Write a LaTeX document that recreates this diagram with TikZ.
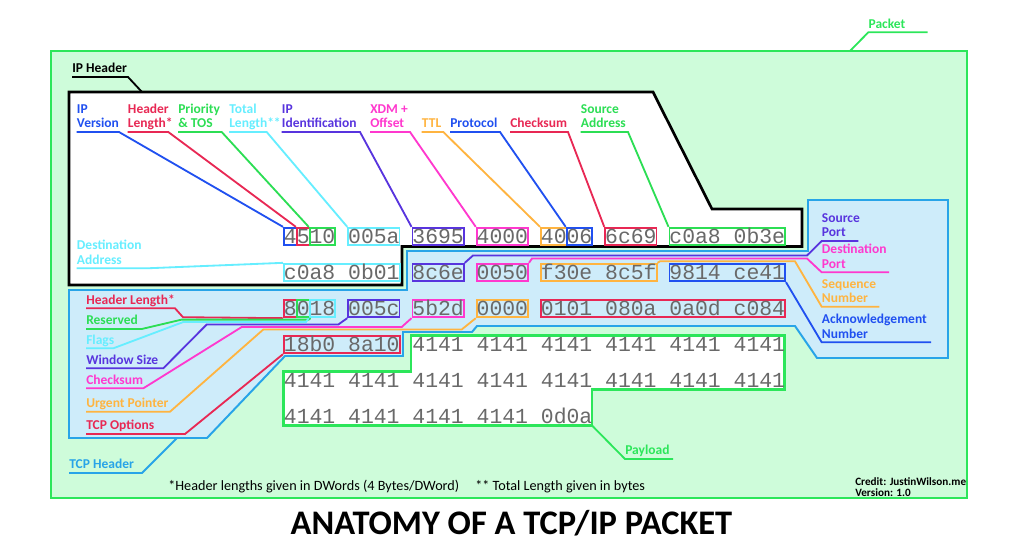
\documentclass[tikz,border=0pt]{standalone}
\usepackage{fontspec}
\setmainfont{Carlito}
\newfontfamily\hexfont{Liberation Mono}
\definecolor{cblue}{RGB}{32,80,240}
\definecolor{cred}{RGB}{232,40,84}
\definecolor{cgreen}{RGB}{44,222,84}
\definecolor{ccyan}{RGB}{102,238,255}
\definecolor{cpurple}{RGB}{88,52,222}
\definecolor{cmagenta}{RGB}{255,56,206}
\definecolor{corange}{RGB}{255,180,64}
\definecolor{ctcp}{RGB}{40,164,232}
\definecolor{tcpfill}{RGB}{206,236,250}
\definecolor{pktgreen}{RGB}{44,230,90}
\definecolor{pktfill}{RGB}{206,252,218}
\definecolor{hexgray}{RGB}{105,105,105}
\tikzset{
  hexbox/.style={draw=#1, line width=1.3pt, inner sep=0pt, anchor=west,
    minimum height=0.4375cm, text height=0.33cm, text depth=0pt,
    font=\hexfont\fontsize{15.23pt}{18pt}\selectfont, text=hexgray},
  lbl/.style={text=#1, font=\bfseries\fontsize{9.6pt}{10pt}\selectfont, align=left,
    anchor=south west, inner xsep=0pt, inner ysep=0.1cm, text depth=0pt},
  lead/.style={draw=#1, line width=1.3pt}
}
\begin{document}
\begin{tikzpicture}[x=0.025cm, y=-0.025cm]
  \useasboundingbox (0,0) rectangle (1024,548);
  \draw[pktgreen, fill=pktfill, line width=1.5pt] (51,51) rectangle (967,498);
  \draw[black, fill=white, line width=1.9pt] (69,92) -- (653,92) -- (712,209) -- (802,209)
    -- (802,246.5) -- (402,246.5) -- (402,285) -- (69,285) -- cycle;
  \draw[ctcp, fill=tcpfill, line width=1.4pt] (69,290) -- (407,290) -- (407,251) -- (808,251)
    -- (808,200) -- (948,200) -- (948,358) -- (817,358) -- (795,326) -- (477,326) -- (472,332)
    -- (403,332) -- (403,356) -- (285,356) -- (207,438) -- (69,438) -- cycle;
  \draw[pktgreen, fill=white, line width=1.6pt] (411,335.5) -- (784.5,335.5) -- (784.5,389.5)
    -- (592,389.5) -- (592,425.5) -- (283.5,425.5) -- (283.5,371.5) -- (411,371.5) -- cycle;

  \foreach \nm/\col/\i/\row/\txt in {
    ipver/cblue/0/1/4, iphl/cred/1/1/5, tos/cgreen/2/1/10, totlen/ccyan/5/1/005a,
    ipid/cpurple/10/1/3695, frag/cmagenta/15/1/4000, ttl/corange/20/1/40, proto/cblue/22/1/06,
    ipsum/cred/25/1/6c69, srcip/cgreen/30/1/c0a8 0b3e,
    dstip/ccyan/0/2/c0a8 0b01, sport/cpurple/10/2/8c6e, dport/cmagenta/15/2/0050,
    seq/corange/20/2/f30e 8c5f, ack/cblue/30/2/9814 ce41,
    hl/cred/0/3/8, resv/cgreen/1/3/0, flags/ccyan/2/3/18, win/cpurple/5/3/005c,
    tcpsum/cmagenta/10/3/5b2d, urg/corange/15/3/0000, opts/cred/20/3/0101 080a 0a0d c084,
    optsb/cred/0/4/18b0 8a10,
    pay/none/10/4/4141 4141 4141 4141 4141 4141,
    payb/none/0/5/4141 4141 4141 4141 4141 4141 4141 4141,
    payc/none/0/6/4141 4141 4141 4141 0d0a}
    \node[hexbox=\col] (\nm) at ({283+\i*12.85}, {236.5+36*(\row-1)}) {\txt};

  \foreach \nm/\col/\x/\ulx/\tgt/\txt in {
    lver/cblue/76.7/119/ipver/{IP\\Version},
    lihl/cred/127.7/168.3/iphl/{Header\\Length*},
    ltos/cgreen/178/221.7/tos/{Priority\\\& TOS},
    llen/ccyan/229/266.7/totlen/{Total\\Length**},
    lid/cpurple/281.7/360/ipid/{IP\\Identification},
    lfrag/cmagenta/370/410/frag/{XDM +\\Offset},
    lttl/corange/421.7/443.3/ttl/{TTL},
    lproto/cblue/450/500/proto/{Protocol},
    lisum/cred/510/568/ipsum/{Checksum},
    lsrc/cgreen/580.7/628/srcip/{Source\\Address}} {
    \node[lbl=\col] (\nm) at (\x,132) {\txt};
    \draw[lead=\col] (\nm.south west) -- (\ulx,132) -- (\tgt.north west);
  }
  \node[lbl=ccyan] (ldst) at (76.7,268.3) {Destination\\Address};
  \draw[lead=ccyan] (ldst.south west) -- (146.7,268.3) -- (dstip.north west);

  \node[lbl=cpurple] (lsport) at (821.7,241) {Source\\Port};
  \draw[lead=cpurple] (sport.north east) -- (473,255.5) -- (807,255.5) -- (lsport.south west) -- (858.3,241);
  \node[lbl=cmagenta] (ldport) at (821.7,272.3) {Destination\\Port};
  \draw[lead=cmagenta] (dport.north east) -- (532,258.5) -- (807,258.5) -- (ldport.south west) -- (889,272.3);
  \node[lbl=corange] (lseq) at (821.7,306.7) {Sequence\\Number};
  \draw[lead=corange] (seq.north east) -- (660,261.3) -- (795,261.3) -- (lseq.south west) -- (879.3,306.7);
  \node[lbl=cblue] (lack) at (821.7,342.3) {Acknowledgement\\Number};
  \draw[lead=cblue] (ack.south east) -- (lack.south west) -- (931,342.3);

  \node[lbl=cred] (lhl) at (86,308.3) {Header Length*};
  \draw[lead=cred] (lhl.south west) -- (175,308.3) -- (183,317.2) -- (hl.south west);
  \node[lbl=cgreen] (lresv) at (86,329) {Reserved};
  \draw[lead=cgreen] (lresv.south west) -- (141.7,329) -- (181.7,319.6) -- (308.7,319.6) -- (resv.south east);
  \node[lbl=ccyan] (lflags) at (86,348.3) {Flags};
  \draw[lead=ccyan] (lflags.south west) -- (113.3,348.3) -- (183.3,322) -- (306,322) -- (flags.south west);
  \node[lbl=cpurple] (lwin) at (86,368.3) {Window Size};
  \draw[lead=cpurple] (lwin.south west) -- (163.3,368.3) -- (206.7,324.5) -- (338.3,324.5) -- (win.south west);
  \node[lbl=cmagenta] (lsum) at (86,388.3) {Checksum};
  \draw[lead=cmagenta] (lsum.south west) -- (143.3,388.3) -- (241.7,327) -- (401.7,327) -- (tcpsum.south west);
  \node[lbl=corange] (lurg) at (86,411.7) {Urgent Pointer};
  \draw[lead=corange] (lurg.south west) -- (170,411.7) -- (263.3,329.5) -- (461.7,329.5) -- (urg.south west);
  \node[lbl=cred] (lopt) at (86,434) {TCP Options};
  \draw[lead=cred] (lopt.south west) -- (185,434) -- (optsb.south west);

  \node[lbl=black] (lip) at (72,77) {IP Header};
  \coordinate (iphdr) at (142,92);
  \draw[lead=black] (lip.south west) -- (128,77) -- (iphdr);
  \node[lbl=ctcp] (ltcp) at (69,473) {TCP Header};
  \coordinate (tcphdr) at (177,438);
  \draw[lead=ctcp] (ltcp.south west) -- (142,473) -- (tcphdr);
  \node[lbl=pktgreen] (lpkt) at (868.3,32.3) {Packet};
  \coordinate (pkt) at (850,51);
  \draw[lead=pktgreen] (pkt) -- (lpkt.south west) -- (927.7,32.3);
  \node[lbl=pktgreen] (lpay) at (625,459) {Payload};
  \coordinate (paycorner) at (592,425.5);
  \draw[lead=pktgreen] (paycorner) -- (lpay.south west) -- (673,459);

  \node[font=\fontsize{10.1pt}{11pt}\selectfont, anchor=base west, inner sep=0pt] (notea) at (168,490) {*Header lengths given in DWords (4 Bytes/DWord)};
  \node[font=\fontsize{10.1pt}{11pt}\selectfont, anchor=base west, inner sep=0pt] (noteb) at (475,490) {** Total Length given in bytes};
  \node[font=\bfseries\fontsize{7.95pt}{7.9pt}\selectfont, align=left, anchor=north west, inner sep=0pt] (credit) at (855,477) {Credit: JustinWilson.me\\Version: 1.0};
  \node[font=\bfseries\fontsize{24.5pt}{28pt}\selectfont, anchor=base, inner sep=0pt] (title) at (511.5,534) {ANATOMY OF A TCP/IP PACKET};
\end{tikzpicture}
\end{document}
